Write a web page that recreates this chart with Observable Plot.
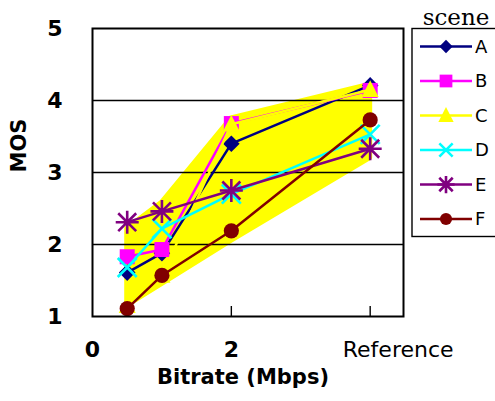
<!DOCTYPE html>
<html><head><meta charset="utf-8">
<script src="https://cdn.jsdelivr.net/npm/d3@7"></script>
<script src="https://cdn.jsdelivr.net/npm/@observablehq/plot@0.6"></script>
<style>
body{margin:0;background:#fff;}
#wrap{position:relative;width:495px;height:401px;overflow:hidden;}
</style></head><body><div id="wrap"></div>
<script>
// ---- data ----
const bitrates = [0.5, 1, 2, 4];
const scenes = ["A", "B", "C", "D", "E", "F"];
const mosA = [1.61, 1.88, 3.40, 4.21];
const mosB = [1.83, 1.93, 3.68, 4.14];
const mosC = [1.15, 1.57, 3.67, 4.15];
const mosD = [1.68, 2.22, 2.70, 3.53];
const mosE = [2.31, 2.46, 2.75, 3.33];
const mosF = [1.11, 1.57, 2.19, 3.73];
const bandLow = [1.15, 1.45, 2.05, 3.20];
const bandHigh = [2.22, 2.58, 3.75, 4.22];
const colors = ["#000080", "#ff00ff", "#ffff00", "#00ffff", "#800080", "#800000"];
const xTickValues = [0, 2];
const xTickLabels = ["0", "2"];
const refTick = 4;
const refLabel = "Reference";
const yTickValues = [1, 2, 3, 4, 5];
const gridValues = [2, 3, 4];
const xTitle = "Bitrate (Mbps)";
const yTitle = "MOS";
const legendTitle = "scene";

const seriesValues = [mosA, mosB, mosC, mosD, mosE, mosF];

// ---- custom symbols (r = sqrt(size/PI)) ----
const R = s => Math.sqrt(s / Math.PI);
const diamondSym = {draw(c, s){const r=R(s); c.moveTo(0,-r); c.lineTo(r,0); c.lineTo(0,r); c.lineTo(-r,0); c.closePath();}};
const squareSym = {draw(c, s){const r=R(s); c.rect(-r,-r,2*r,2*r);}};
const triSym = {draw(c, s){const r=R(s); c.moveTo(0,-1.1*r); c.lineTo(r,0.85*r); c.lineTo(-r,0.85*r); c.closePath();}};
const timesSym = {draw(c, s){const r=R(s); c.moveTo(-r,-r); c.lineTo(r,r); c.moveTo(r,-r); c.lineTo(-r,r);}};
const starSym = {draw(c, s){const r=R(s); const d=r*0.78;
  c.moveTo(0,-r); c.lineTo(0,r); c.moveTo(-r,0); c.lineTo(r,0);
  c.moveTo(-d,-d); c.lineTo(d,d); c.moveTo(d,-d); c.lineTo(-d,d);}};
const circleSym = {draw(c, s){const r=R(s); c.moveTo(r,0); c.arc(0,0,r,0,2*Math.PI); c.closePath();}};

const markers = [
  {symbol: diamondSym, r: 8.3, filled: true},
  {symbol: squareSym, r: 7.5, filled: true},
  {symbol: triSym, r: 8.5, filled: true},
  {symbol: timesSym, r: 9.5, filled: false},
  {symbol: starSym, r: 11.5, filled: false},
  {symbol: circleSym, r: 7.6, filled: true}
];

const band = bitrates.map((x, i) => ({x, lo: bandLow[i], hi: bandHigh[i]}));

const seriesMarks = [];
scenes.forEach((name, k) => {
  const rows = bitrates.map((x, i) => ({scene: name, x, y: seriesValues[k][i]}));
  const m = markers[k];
  seriesMarks.push(Plot.line(rows, {x: "x", y: "y", stroke: colors[k], strokeWidth: 2.5}));
  seriesMarks.push(Plot.dot(rows, {
    x: "x", y: "y", symbol: m.symbol, r: m.r,
    fill: m.filled ? colors[k] : "none",
    stroke: m.filled ? "none" : colors[k],
    strokeWidth: m.filled ? 0 : 2.6
  }));
});

const font = "DejaVu Sans, Liberation Sans, Arial, sans-serif";

const chart = Plot.plot({
  width: 495, height: 401,
  marginLeft: 92, marginRight: 92, marginTop: 28, marginBottom: 85,
  x: {domain: [0, 4.48], axis: null},
  y: {domain: [1, 5], axis: null},
  style: {fontFamily: font, background: "white", color: "black", overflow: "visible"},
  marks: [
    Plot.areaY(band, {x: "x", y1: "lo", y2: "hi", fill: "#ffff00", stroke: "#ffff00", strokeWidth: 5, strokeLinejoin: "round"}),
    Plot.ruleY(gridValues, {stroke: "black", strokeWidth: 1.4}),
    Plot.tickX([xTickValues[1], refTick], {stroke: "black", strokeWidth: 1.4, insetTop: 278}),
    ...seriesMarks,
    Plot.frame({stroke: "black", strokeWidth: 2}),
    Plot.text(yTickValues, {y: d => d, frameAnchor: "left", dx: -30, textAnchor: "end", fontSize: 22, fontWeight: "bold", text: d => String(d)}),
    Plot.text(xTickValues, {x: d => d, frameAnchor: "bottom", dy: 40, fontSize: 22, fontWeight: "bold", text: (d, i) => xTickLabels[i]}),
    Plot.text([refTick], {x: d => d, frameAnchor: "bottom", dy: 40, dx: 28, fontSize: 22, text: () => refLabel}),
    Plot.text([xTitle], {frameAnchor: "bottom", dy: 67, dx: -5, fontSize: 21, fontWeight: "bold", text: d => d}),
    Plot.text([yTitle], {frameAnchor: "left", dx: -73, rotate: -90, fontSize: 21, fontWeight: "bold", text: d => d})
  ]
});

document.getElementById("wrap").appendChild(chart);

// ---- legend ----
const svg = d3.select(chart);
const lg = svg.append("g").attr("class", "legend").attr("text-anchor", "start");
lg.append("rect").attr("x", 412).attr("y", 28.5).attr("width", 90).attr("height", 208)
  .attr("fill", "white").attr("stroke", "black").attr("stroke-width", 1.4);
lg.append("text").attr("x", 456).attr("y", 25).attr("text-anchor", "middle")
  .attr("font-family", "DejaVu Serif, Liberation Serif, serif").attr("font-size", 23).text(legendTitle);
const legendScale = [0.8, 0.85, 0.9, 0.7, 0.75, 0.8];
scenes.forEach((name, k) => {
  const y = 46.5 + k * 34.5;
  const g = lg.append("g").attr("transform", `translate(0,${y})`);
  g.append("line").attr("x1", 420).attr("x2", 472).attr("y1", 0).attr("y2", 0)
    .attr("stroke", colors[k]).attr("stroke-width", 2.5);
  const m = markers[k];
  const rr = m.r * legendScale[k];
  const path = d3.symbol().type(m.symbol).size(Math.PI * rr * rr)();
  g.append("path").attr("d", path).attr("transform", "translate(446,0)")
    .attr("fill", m.filled ? colors[k] : "none")
    .attr("stroke", m.filled ? "none" : colors[k])
    .attr("stroke-width", m.filled ? 0 : 2.6);
  g.append("text").attr("x", 475).attr("y", 0).attr("dy", "0.36em").attr("text-anchor", "start")
    .attr("font-family", font).attr("font-size", 18).text(name);
});
</script>
</body></html>
